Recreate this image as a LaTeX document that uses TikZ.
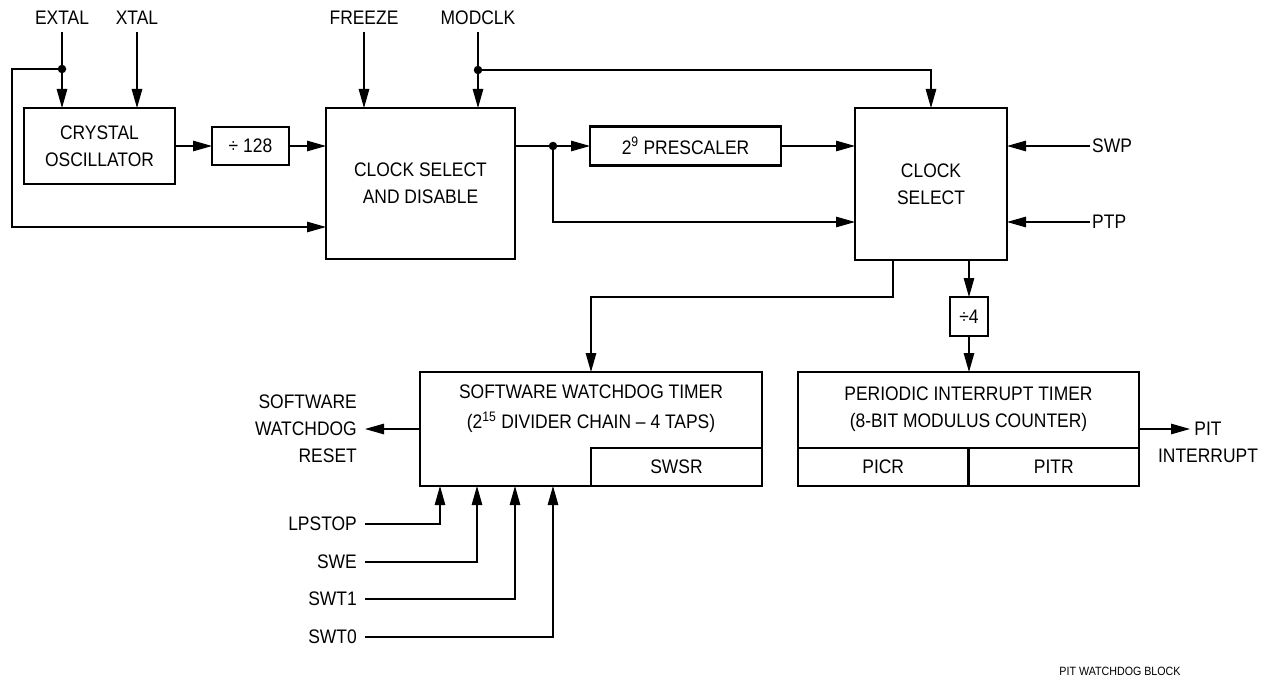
\documentclass[tikz,border=0pt]{standalone}
\usepackage{fontspec}
\setmainfont{Liberation Sans}[FakeStretch=0.89]
\usetikzlibrary{arrows.meta,positioning,calc}

\begin{document}
\begin{tikzpicture}[x=1pt, y=-1pt, font=\fontsize{19.6}{27}\selectfont,
  box/.style={draw, line width=2.2pt, align=center, inner sep=0pt, outer sep=0pt},
  wire/.style={line width=1.1pt},
  arr/.style={wire, -{Triangle[length=19pt,width=10.5pt]}},
  lbl/.style={inner sep=2pt, align=center},
  toplbl/.style={inner xsep=2pt, inner ysep=7pt},
  side/.style={inner xsep=8pt, inner ysep=2pt, align=right},
  tap/.style={circle, fill, inner sep=0pt, minimum size=8.5pt}]
\useasboundingbox (0,0) rectangle (1262,677);
\node[box, minimum width=151pt, minimum height=76pt]  (xo)     at (99.5,146)   {CRYSTAL\\OSCILLATOR};
\node[box, minimum width=77pt, minimum height=38pt]   (div128) at (250.5,146)  {÷ 128};
\node[box, minimum width=189pt, minimum height=151pt] (csd)    at (420.5,183.5) {CLOCK SELECT\\AND DISABLE};
\node[box, minimum width=191pt, minimum height=39pt]  (pre)    at (685.5,146)  {2\textsuperscript{9} PRESCALER};
\node[box, minimum width=152pt, minimum height=152pt] (cs)     at (931,184)    {CLOCK\\SELECT};
\node[box, minimum width=38pt, minimum height=39pt]   (div4)   at (969,316.5)  {÷4};
\node[box, minimum width=342pt, minimum height=114pt] (swt)    at (591,429)    {};
\node[box, anchor=south east, minimum width=171pt, minimum height=38pt] (swsr) at (swt.south east) {SWSR};
\node[lbl] (swttxt) at ($(swt.north)+(0,37)$) {SOFTWARE WATCHDOG TIMER\\[3pt](2\textsuperscript{15} DIVIDER CHAIN -- 4 TAPS)};
\node[box, minimum width=341pt, minimum height=114pt] (pit)    at (968.5,429)  {};
\node[box, anchor=south west, minimum width=170.5pt, minimum height=38pt] (picr) at (pit.south west) {PICR};
\node[box, anchor=south east, minimum width=170.5pt, minimum height=38pt] (pitr) at (pit.south east) {PITR};
\node[lbl] (pittxt) at ($(pit.north)+(0,37)$) {PERIODIC INTERRUPT TIMER\\(8-BIT MODULUS COUNTER)};
\node[toplbl] (extal)  at (62,18)  {EXTAL};
\node[toplbl] (xtal)   at (137,18) {XTAL};
\node[toplbl] (freeze) at (364,18) {FREEZE};
\node[toplbl] (modclk) at (478,18) {MODCLK};
\node[lbl, anchor=west] (swp) at (1090,146) {SWP};
\node[lbl, anchor=west] (ptp) at (1090,222) {PTP};
\node[side, anchor=east] (swrst) at (365,429) {SOFTWARE\\WATCHDOG\\RESET};
\node[lbl] (pitint) at (1208,442) {PIT\\INTERRUPT};
\coordinate (pitend) at (1190,429);
\node[tap] (exttap) at (62,69)   {};
\node[tap] (modtap) at (478,70)  {};
\node[tap] (cstap)  at (553,146) {};
\draw[arr] (extal) -- (extal |- xo.north);
\draw[arr] (xtal) -- (xtal |- xo.north);
\draw[arr] (freeze) -- (freeze |- csd.north);
\draw[arr] (modclk) -- (modclk |- csd.north);
\draw[arr] (exttap) -- (12,69) |- (csd.west |- 0,227);
\draw[arr] (modtap) -| (cs.north);
\draw[arr] (xo) -- (div128);
\draw[arr] (div128) -- (div128 -| csd.west);
\draw[wire] (csd.east |- cstap) -- (cstap);
\draw[arr] (cstap) -- (pre);
\draw[arr] (cstap) |- (cs.west |- 0,222);
\draw[arr] (pre) -- (pre -| cs.west);
\draw[arr] (swp) -- (swp -| cs.east);
\draw[arr] (ptp) -- (ptp -| cs.east);
\draw[arr] (cs.south -| 893,0) |- (swt.north |- 0,297) -- (swt.north);
\draw[arr] (cs.south -| div4) -- (div4);
\draw[arr] (div4) -- (div4 |- pit.north);
\draw[arr] (swt.west) -- (swrst);
\draw[arr] (pit) -- (pitend);
\foreach \sig/\yy/\dx in {LPSTOP/524/20, SWE/562/57, SWT1/599/95, SWT0/637/133}
  {\node[side, anchor=east] (\sig) at (365,\yy) {\sig};
   \draw[arr] (\sig) -| ($(swt.south west)+(\dx,0)$);}
\node[font=\fontsize{12}{13}\selectfont] (figname) at (1120,671) {PIT WATCHDOG BLOCK};
\end{tikzpicture}
\end{document}
